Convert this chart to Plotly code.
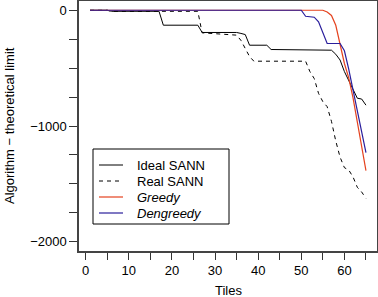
import plotly.graph_objects as go

# Data
ideal_x = [1, 5, 6, 17, 18, 26, 27, 35, 36, 37, 38, 42, 43, 57, 58, 59, 60, 61, 62, 63, 64, 65]
ideal_y = [0, 0, -9, -9, -129, -129, -192, -192, -200, -210, -302, -302, -339, -345, -380, -430, -530, -605, -690, -760, -767, -820]

real_x = [1, 5, 6, 26, 27, 35, 36, 37, 38, 39, 51, 52, 53, 54, 55, 56, 57, 58, 59, 60, 61, 62, 63, 64, 65]
real_y = [0, 0, -9, -9, -195, -215, -260, -330, -400, -440, -440, -530, -590, -718, -790, -833, -960, -1130, -1270, -1360, -1380, -1440, -1530, -1570, -1625]

greedy_x = [1, 55, 56, 57, 58, 59, 60, 61, 62, 63, 64, 65]
greedy_y = [0, 0, -15, -45, -130, -300, -460, -584, -757, -966, -1175, -1385]

dengreedy_x = [1, 50, 51, 53, 54, 55, 56, 59, 60, 61, 62, 63, 64, 65]
dengreedy_y = [0, 0, -52, -60, -100, -200, -287, -287, -350, -508, -684, -866, -1048, -1230]

series_names = ["Ideal SANN", "Real SANN", "<i>Greedy</i>", "<i>Dengreedy</i>"]

x_tickvals = list(range(0, 70, 5))
x_ticktext = [str(v) if v % 10 == 0 else "" for v in x_tickvals]
y_tickvals = list(range(-2000, 1, 250))
y_ticktext = [("0" if v == 0 else "\u2212" + str(-v)) if v % 1000 == 0 else "" for v in y_tickvals]

FONT = "Liberation Sans, Arial, Helvetica, sans-serif"
W, H = 378, 297
ML, MR, MT, MB = 79, 1, 1, 46
PW, PH = W - ML - MR, H - MT - MB


def px_x(px):
    return (px - ML) / PW


def px_y(py):
    return (H - MB - py) / PH


styles = [dict(color="black", width=1),
          dict(color="black", width=1, dash="4px,4px"),
          dict(color="#E5421E", width=1.2),
          dict(color="#2A1E9C", width=1.2)]

fig = go.Figure()
for name, xs, ys, st in zip(series_names,
                            [ideal_x, real_x, greedy_x, dengreedy_x],
                            [ideal_y, real_y, greedy_y, dengreedy_y], styles):
    fig.add_trace(go.Scatter(x=xs, y=ys, mode="lines", name=name, line=st, showlegend=False))

shapes = [dict(type="rect", xref="paper", yref="paper",
               x0=px_x(93), x1=px_x(229), y0=px_y(224), y1=px_y(149),
               line=dict(color="black", width=1), fillcolor="rgba(0,0,0,0)")]
annotations = []
legend_rows = [165, 181, 197, 213]
for name, st, ry in zip(series_names, styles, legend_rows):
    ln = dict(color=st["color"], width=st["width"])
    if "dash" in st:
        ln["dash"] = st["dash"]
    shapes.append(dict(type="line", xref="paper", yref="paper",
                       x0=px_x(99), x1=px_x(123), y0=px_y(ry), y1=px_y(ry), line=ln))
    annotations.append(dict(text=name, xref="paper", yref="paper",
                            x=px_x(135), y=px_y(ry), xanchor="left", yanchor="middle",
                            showarrow=False, font=dict(size=13, color="black")))

annotations.append(dict(text="Tiles", xref="paper", yref="paper",
                        x=px_x((ML + W - MR) / 2), y=px_y(290), xanchor="center", yanchor="middle",
                        showarrow=False, font=dict(size=13, color="black")))
annotations.append(dict(text="Algorithm \u2212 theoretical limit", xref="paper", yref="paper",
                        x=px_x(9), y=px_y(126), xanchor="center", yanchor="middle", textangle=-90,
                        showarrow=False, font=dict(size=13, color="black")))

fig.update_layout(
    width=W, height=H,
    margin=dict(l=ML, r=MR, t=MT, b=MB, autoexpand=False),
    paper_bgcolor="white", plot_bgcolor="white",
    font=dict(family=FONT, size=13, color="black"),
    showlegend=False,
    xaxis=dict(range=[-1.56, 67.56], tickvals=x_tickvals, ticktext=x_ticktext,
               ticks="outside", ticklen=7, tickcolor="#333", showgrid=False, zeroline=False,
               showline=True, mirror=True, linecolor="#444", linewidth=1.5, automargin=False),
    yaxis=dict(range=[-2080, 80], tickvals=y_tickvals, ticktext=y_ticktext,
               ticks="outside", ticklen=8, tickcolor="#333", showgrid=False, zeroline=False,
               showline=True, mirror=True, linecolor="#444", linewidth=1.5, automargin=False),
    shapes=shapes,
    annotations=annotations,
)

fig.write_html("out.html", config={"displayModeBar": False},
               post_script="document.body.style.margin='0';document.body.style.overflow='hidden';")
